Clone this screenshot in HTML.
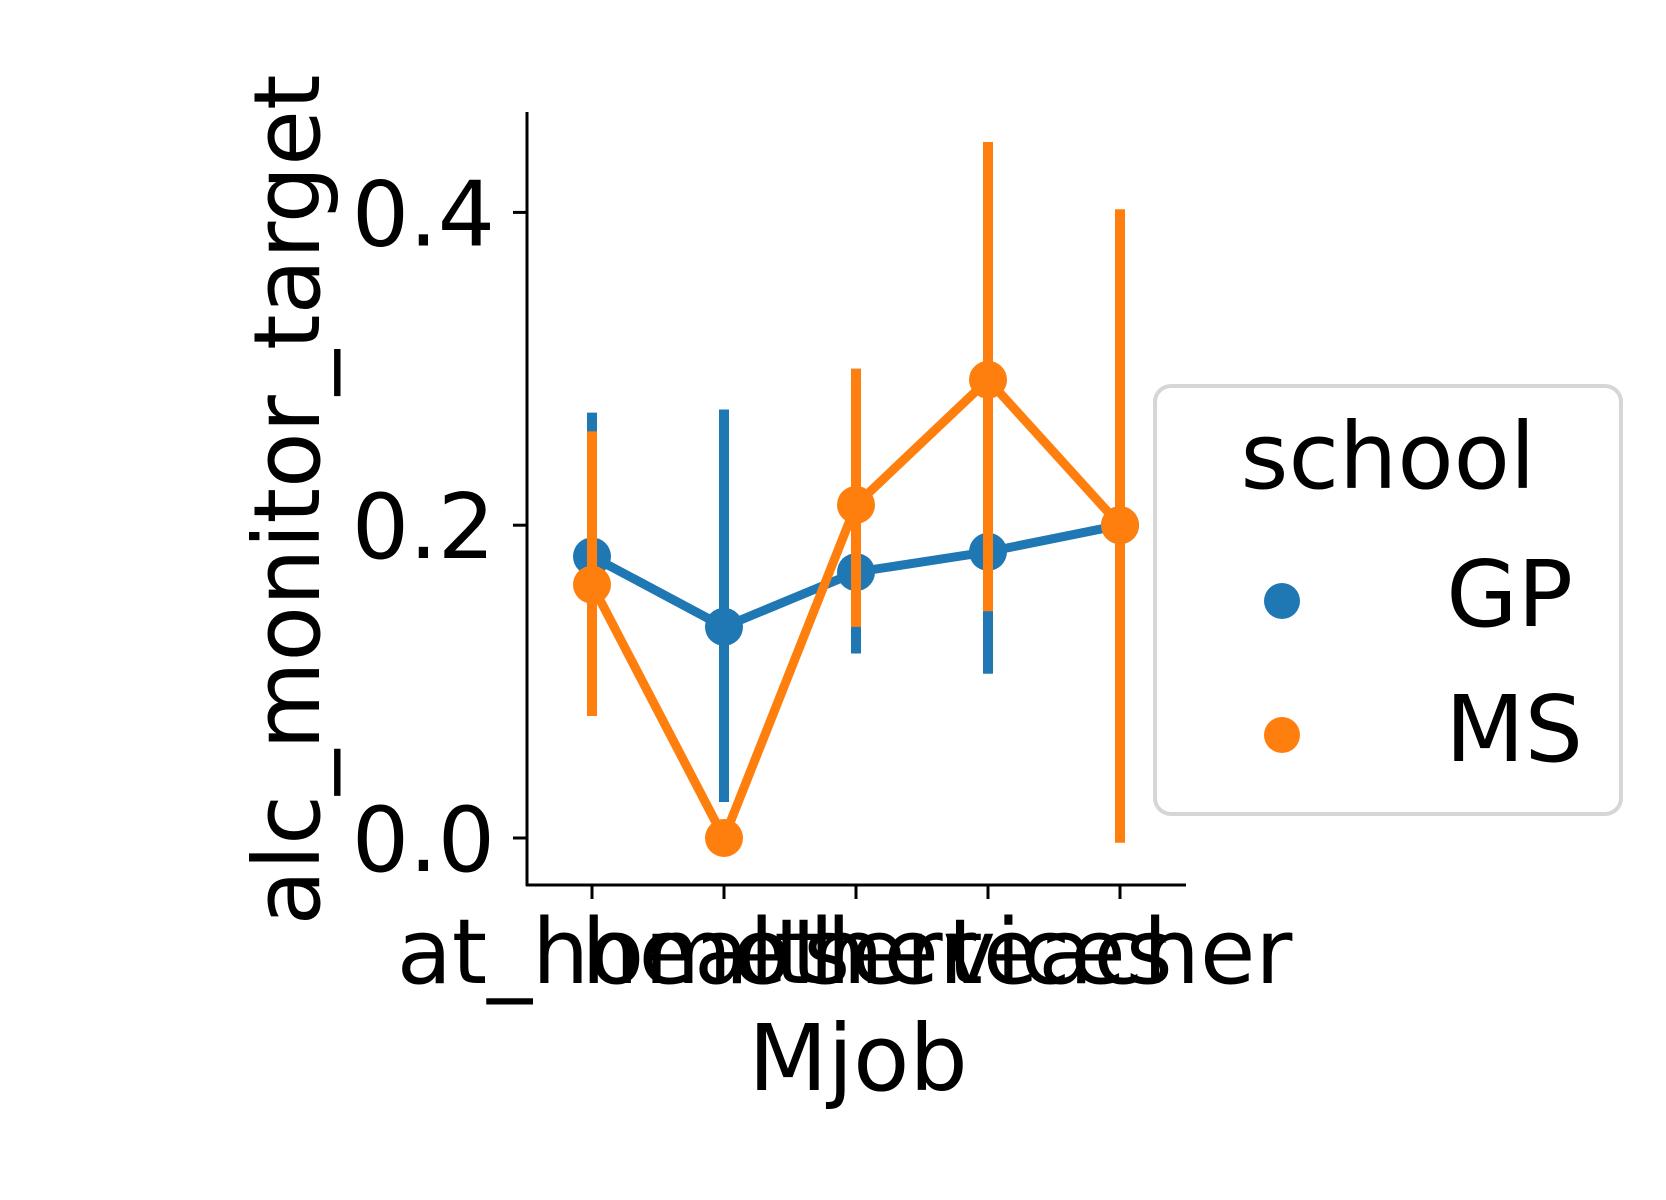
<!DOCTYPE html>
<html><head><meta charset="utf-8"><style>
html,body{margin:0;padding:0;background:#fff;}
svg{display:block;font-family:"DejaVu Sans","Liberation Sans",sans-serif;}
</style></head><body>
<svg id="chart" width="1666" height="1200" viewBox="0 0 1666 1200">
<rect width="1666" height="1200" fill="#fff"/>
<g id="plot"></g>
<line x1="527" y1="112" x2="527" y2="886" stroke="#000" stroke-width="3"/>
<line x1="526" y1="885" x2="1186" y2="885" stroke="#000" stroke-width="3"/>
<g id="yticks"></g>
<g id="xticks"></g>
<text x="319" y="500" font-size="92" text-anchor="middle" transform="rotate(-90 319 500)" textLength="851" lengthAdjust="spacingAndGlyphs">alc_monitor_target</text>
<text x="858" y="1090" font-size="92" text-anchor="middle">Mjob</text>
<g>
<rect x="1155" y="386" width="466" height="428" rx="16" fill="#fff" stroke="#d6d6d6" stroke-width="4"/>
<text x="1388" y="488" font-size="92" text-anchor="middle">school</text>
<circle cx="1282" cy="601" r="18" fill="#1f77b4"/>
<text x="1573" y="626" font-size="92" text-anchor="end">GP</text>
<circle cx="1282" cy="735" r="18" fill="#ff7f0e"/>
<text x="1583" y="761" font-size="92" text-anchor="end">MS</text>
</g>
</svg>
<script>
const categories = ["at_home","health","other","services","teacher"];
const gpValues = [0.180, 0.135, 0.170, 0.183, 0.200];
const gpLow = [0.095, 0.023, 0.118, 0.105, 0.090];
const gpHigh = [0.272, 0.274, 0.300, 0.295, 0.312];
const msValues = [0.162, 0.000, 0.213, 0.293, 0.200];
const msLow = [0.078, 0.000, 0.135, 0.145, -0.003];
const msHigh = [0.260, 0.000, 0.300, 0.445, 0.402];
const yTicks = [0.0, 0.2, 0.4];
const yTickLabels = ["0.0","0.2","0.4"];

const NS = "http://www.w3.org/2000/svg";
const yScale = v => 838 - v * 1564;
const xScale = i => 592 + i * 132;
function mk(tag, attrs, parent){const e=document.createElementNS(NS,tag);for(const k in attrs)e.setAttribute(k,attrs[k]);parent.appendChild(e);return e;}
const plot=document.getElementById('plot');
const yt=document.getElementById('yticks');
const xt=document.getElementById('xticks');
yTicks.forEach((v,i)=>{
  const l=mk('line',{x1:513,x2:527,y1:yScale(v),y2:yScale(v),stroke:'#000','stroke-width':3},yt);
  
  
  const t=mk('text',{x:495,y:yScale(v)+33,'font-size':90,'text-anchor':'end'},yt);
  t.textContent=yTickLabels[i];
  
  
});
categories.forEach((c,i)=>{
  const l=mk('line',{x1:xScale(i),x2:xScale(i),y1:885,y2:899,stroke:'#000','stroke-width':3},xt);
  
  
  const t=mk('text',{x:xScale(i),y:983,'font-size':90,'text-anchor':'middle'},xt);
  t.textContent=c;
  
  
});
function series(vals,lo,hi,color,name){
  const g=mk('g',{},plot);
  
  
  vals.forEach((v,i)=>{
    if(hi[i]!==lo[i]){
      const e=mk('line',{x1:xScale(i),x2:xScale(i),y1:yScale(lo[i]),y2:yScale(hi[i]),stroke:color,'stroke-width':10},g);
      
      
    }
  });
  const p=mk('polyline',{points:vals.map((v,i)=>xScale(i)+','+yScale(v)).join(' '),fill:'none',stroke:color,'stroke-width':9,'stroke-linejoin':'round'},g);
  
  
  vals.forEach((v,i)=>{
    const c=mk('circle',{cx:xScale(i),cy:yScale(v),r:19,fill:color},g);
    
    
  });
}
series(gpValues,gpLow,gpHigh,'#1f77b4','gp');
series(msValues,msLow,msHigh,'#ff7f0e','ms');
</script>
</body></html>
